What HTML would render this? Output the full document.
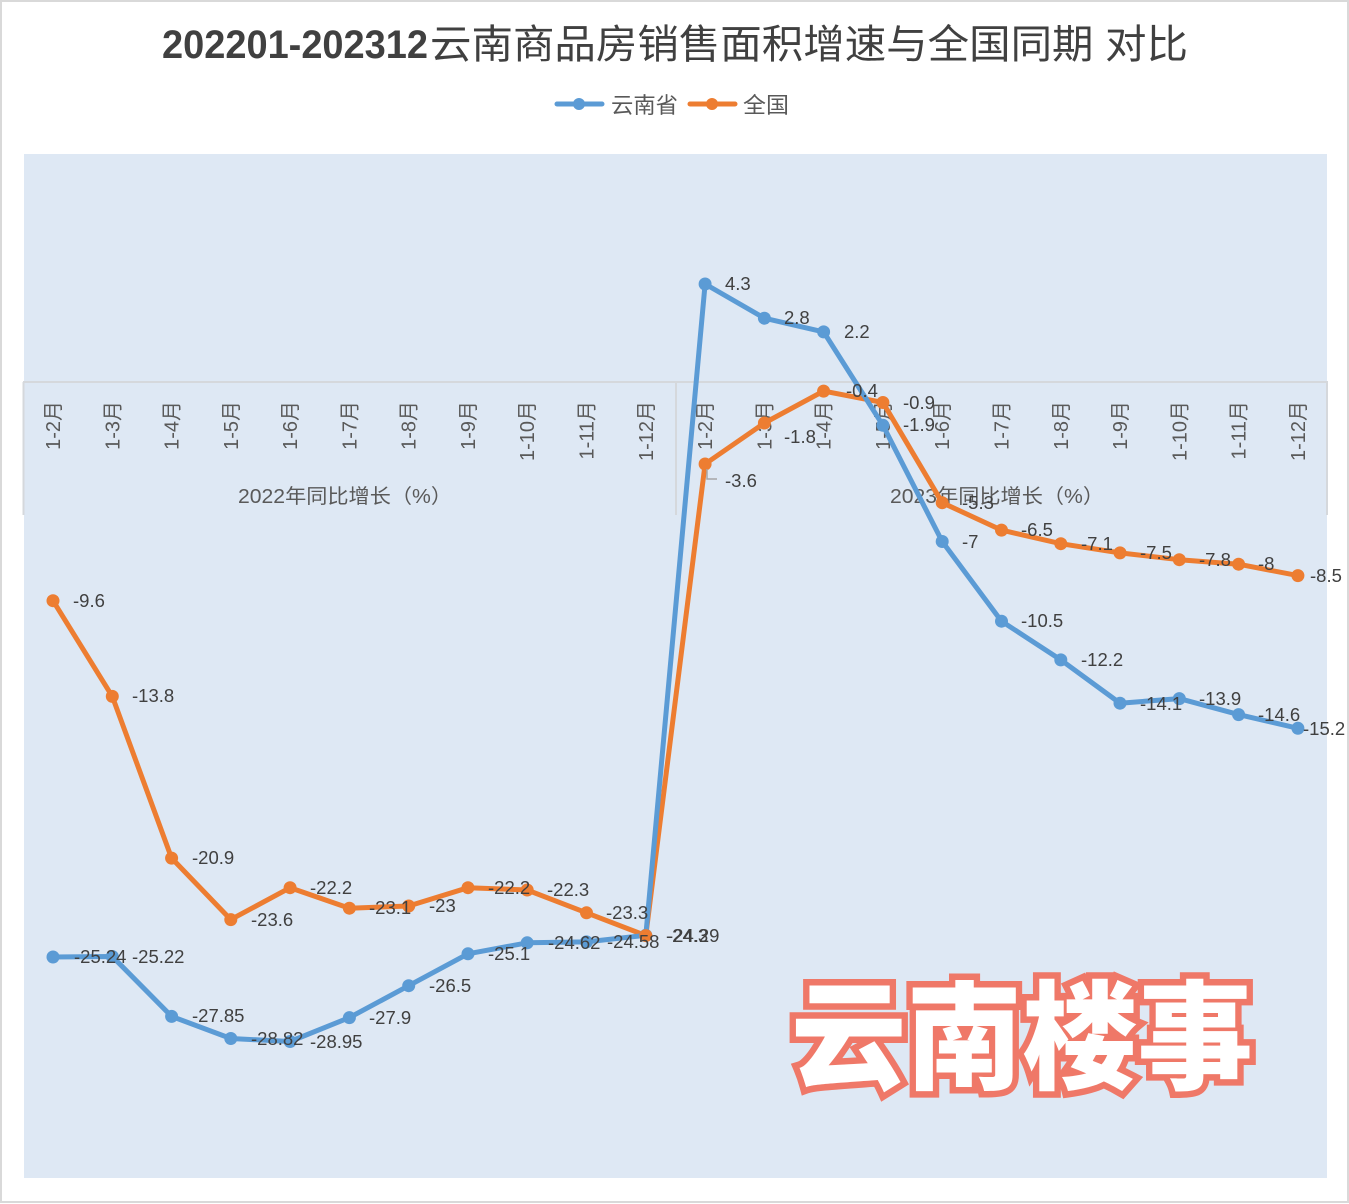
<!DOCTYPE html>
<html><head><meta charset="utf-8"><style>
html,body{margin:0;padding:0;background:#fff;}
svg{display:block;}
text{font-family:"Liberation Sans","Noto Sans CJK SC",sans-serif;}
</style></head><body>
<svg width="1349" height="1204" viewBox="0 0 1349 1204" xmlns="http://www.w3.org/2000/svg">
<rect x="0" y="0" width="1349" height="1204" fill="#fff"/>
<rect x="1" y="1" width="1347" height="1201" fill="none" stroke="#d9d9d9" stroke-width="2"/>
<!-- title -->
<text x="162" y="58" font-size="40" font-weight="bold" fill="#404040" textLength="266" lengthAdjust="spacingAndGlyphs">202201-202312</text>
<text x="430" y="58" font-size="40" fill="#404040" font-family="Noto Sans CJK SC, sans-serif" textLength="758" lengthAdjust="spacingAndGlyphs">云南商品房销售面积增速与全国同期 对比</text>
<!-- legend -->
<line x1="557" y1="104" x2="602" y2="104" stroke="#5b9bd5" stroke-width="5" stroke-linecap="round"/>
<circle cx="579" cy="104" r="6" fill="#5b9bd5"/>
<text x="611" y="113" font-size="22" fill="#595959" font-family="Noto Sans CJK SC, sans-serif" textLength="67" lengthAdjust="spacingAndGlyphs">云南省</text>
<line x1="690" y1="104" x2="735" y2="104" stroke="#ed7d31" stroke-width="5" stroke-linecap="round"/>
<circle cx="712" cy="104" r="6" fill="#ed7d31"/>
<text x="743" y="113" font-size="22" fill="#595959" font-family="Noto Sans CJK SC, sans-serif" textLength="46" lengthAdjust="spacingAndGlyphs">全国</text>
<!-- plot bg -->
<rect x="24" y="154" width="1303" height="1024" fill="#dee8f4"/>
<!-- axis band -->
<line x1="23" y1="382" x2="1328" y2="382" stroke="#d5d8dc" stroke-width="2"/>
<line x1="23.5" y1="382" x2="23.5" y2="515" stroke="#d5d8dc" stroke-width="2"/>
<line x1="676" y1="382" x2="676" y2="515" stroke="#d5d8dc" stroke-width="2"/>
<line x1="1327" y1="382" x2="1327" y2="515" stroke="#d5d8dc" stroke-width="2"/>
<g font-size="20" fill="#595959" text-anchor="end">
<text transform="translate(60,401) rotate(-90)">1-2月</text>
<text transform="translate(119.3,401) rotate(-90)">1-3月</text>
<text transform="translate(178.6,401) rotate(-90)">1-4月</text>
<text transform="translate(237.8,401) rotate(-90)">1-5月</text>
<text transform="translate(297.1,401) rotate(-90)">1-6月</text>
<text transform="translate(356.4,401) rotate(-90)">1-7月</text>
<text transform="translate(415.7,401) rotate(-90)">1-8月</text>
<text transform="translate(475,401) rotate(-90)">1-9月</text>
<text transform="translate(534.2,401) rotate(-90)">1-10月</text>
<text transform="translate(593.5,401) rotate(-90)">1-11月</text>
<text transform="translate(652.8,401) rotate(-90)">1-12月</text>
<text transform="translate(712.1,401) rotate(-90)">1-2月</text>
<text transform="translate(771.4,401) rotate(-90)">1-3月</text>
<text transform="translate(830.6,401) rotate(-90)">1-4月</text>
<text transform="translate(889.9,401) rotate(-90)">1-5月</text>
<text transform="translate(949.2,401) rotate(-90)">1-6月</text>
<text transform="translate(1008.5,401) rotate(-90)">1-7月</text>
<text transform="translate(1067.8,401) rotate(-90)">1-8月</text>
<text transform="translate(1127,401) rotate(-90)">1-9月</text>
<text transform="translate(1186.3,401) rotate(-90)">1-10月</text>
<text transform="translate(1245.6,401) rotate(-90)">1-11月</text>
<text transform="translate(1304.9,401) rotate(-90)">1-12月</text>
</g>
<text x="238" y="503" font-size="20" fill="#595959" textLength="214" lengthAdjust="spacingAndGlyphs">2022年同比增长（%）</text>
<text x="890" y="503" font-size="20" fill="#595959" textLength="214" lengthAdjust="spacingAndGlyphs">2023年同比增长（%）</text>
<!-- series: national (orange) -->
<polyline fill="none" stroke="#ed7d31" stroke-width="5" stroke-linejoin="round" points="53,600.7 112.3,696.4 171.6,858.1 230.8,919.6 290.1,887.7 349.4,908.2 408.7,906 468,887.7 527.2,890 586.5,912.8 645.8,935.6 705.1,464 764.4,423 823.6,391.1 882.9,402.5 942.2,502.7 1001.5,530.1 1060.8,543.7 1120,552.9 1179.3,559.7 1238.6,564.2 1297.9,575.6"/>
<!-- series: yunnan (blue) -->
<polyline fill="none" stroke="#5b9bd5" stroke-width="5" stroke-linejoin="round" points="53,957 112.3,956.5 171.6,1016.4 230.8,1038.5 290.1,1041.5 349.4,1017.6 408.7,985.7 468,953.8 527.2,942.8 586.5,941.9 645.8,935.3 705.1,284 764.4,318.2 823.6,331.9 882.9,425.3 942.2,541.5 1001.5,621.2 1060.8,659.9 1120,703.2 1179.3,698.6 1238.6,714.6 1297.9,728.3"/>
<g fill="#5b9bd5">
<circle cx="53" cy="957" r="6.5"/><circle cx="112.3" cy="956.5" r="6.5"/><circle cx="171.6" cy="1016.4" r="6.5"/><circle cx="230.8" cy="1038.5" r="6.5"/><circle cx="290.1" cy="1041.5" r="6.5"/><circle cx="349.4" cy="1017.6" r="6.5"/><circle cx="408.7" cy="985.7" r="6.5"/><circle cx="468" cy="953.8" r="6.5"/><circle cx="527.2" cy="942.8" r="6.5"/><circle cx="586.5" cy="941.9" r="6.5"/><circle cx="645.8" cy="935.3" r="6.5"/><circle cx="705.1" cy="284" r="6.5"/><circle cx="764.4" cy="318.2" r="6.5"/><circle cx="823.6" cy="331.9" r="6.5"/><circle cx="882.9" cy="425.3" r="6.5"/><circle cx="942.2" cy="541.5" r="6.5"/><circle cx="1001.5" cy="621.2" r="6.5"/><circle cx="1060.8" cy="659.9" r="6.5"/><circle cx="1120" cy="703.2" r="6.5"/><circle cx="1179.3" cy="698.6" r="6.5"/><circle cx="1238.6" cy="714.6" r="6.5"/><circle cx="1297.9" cy="728.3" r="6.5"/>
</g>
<g fill="#ed7d31">
<circle cx="53" cy="600.7" r="6.5"/><circle cx="112.3" cy="696.4" r="6.5"/><circle cx="171.6" cy="858.1" r="6.5"/><circle cx="230.8" cy="919.6" r="6.5"/><circle cx="290.1" cy="887.7" r="6.5"/><circle cx="349.4" cy="908.2" r="6.5"/><circle cx="408.7" cy="906" r="6.5"/><circle cx="468" cy="887.7" r="6.5"/><circle cx="527.2" cy="890" r="6.5"/><circle cx="586.5" cy="912.8" r="6.5"/><circle cx="645.8" cy="935.6" r="6.5"/><circle cx="705.1" cy="464" r="6.5"/><circle cx="764.4" cy="423" r="6.5"/><circle cx="823.6" cy="391.1" r="6.5"/><circle cx="882.9" cy="402.5" r="6.5"/><circle cx="942.2" cy="502.7" r="6.5"/><circle cx="1001.5" cy="530.1" r="6.5"/><circle cx="1060.8" cy="543.7" r="6.5"/><circle cx="1120" cy="552.9" r="6.5"/><circle cx="1179.3" cy="559.7" r="6.5"/><circle cx="1238.6" cy="564.2" r="6.5"/><circle cx="1297.9" cy="575.6" r="6.5"/>
</g>
<!-- leader line -->
<polyline points="707,469 707,479 717,479" fill="none" stroke="#a6a6a6" stroke-width="1.5"/>
<!-- data labels -->
<g font-size="18.5" fill="#404040">
<text x="73" y="607">-9.6</text>
<text x="132" y="702">-13.8</text>
<text x="192" y="864">-20.9</text>
<text x="251" y="926">-23.6</text>
<text x="310" y="894">-22.2</text>
<text x="369" y="914">-23.1</text>
<text x="429" y="912">-23</text>
<text x="488" y="894">-22.2</text>
<text x="547" y="896">-22.3</text>
<text x="606" y="919">-23.3</text>
<text x="666" y="942">-24.3</text>
<text x="725" y="487">-3.6</text>
<text x="784" y="443">-1.8</text>
<text x="846" y="397">-0.4</text>
<text x="903" y="409">-0.9</text>
<text x="962" y="509">-5.3</text>
<text x="1021" y="536">-6.5</text>
<text x="1081" y="550">-7.1</text>
<text x="1140" y="559">-7.5</text>
<text x="1199" y="566">-7.8</text>
<text x="1258" y="570">-8</text>
<text x="1310" y="582">-8.5</text>

<text x="74" y="963">-25.24</text>
<text x="132" y="963">-25.22</text>
<text x="192" y="1022">-27.85</text>
<text x="251" y="1045">-28.82</text>
<text x="310" y="1048">-28.95</text>
<text x="369" y="1024">-27.9</text>
<text x="429" y="992">-26.5</text>
<text x="488" y="960">-25.1</text>
<text x="548" y="949">-24.62</text>
<text x="607" y="948">-24.58</text>
<text x="667" y="942">-24.29</text>
<text x="725" y="290">4.3</text>
<text x="784" y="324">2.8</text>
<text x="844" y="338">2.2</text>
<text x="903" y="431">-1.9</text>
<text x="962" y="548">-7</text>
<text x="1021" y="627">-10.5</text>
<text x="1081" y="666">-12.2</text>
<text x="1140" y="710">-14.1</text>
<text x="1199" y="705">-13.9</text>
<text x="1258" y="721">-14.6</text>
<text x="1303" y="735">-15.2</text>
</g>
<!-- watermark -->
<text x="791" y="1080" font-size="118" font-weight="900" fill="#ffffff" stroke="#ef7868" stroke-width="13" stroke-linejoin="miter" paint-order="stroke" font-family="Noto Sans CJK SC, sans-serif" textLength="462" lengthAdjust="spacingAndGlyphs">云南楼事</text>
</svg>
</body></html>
